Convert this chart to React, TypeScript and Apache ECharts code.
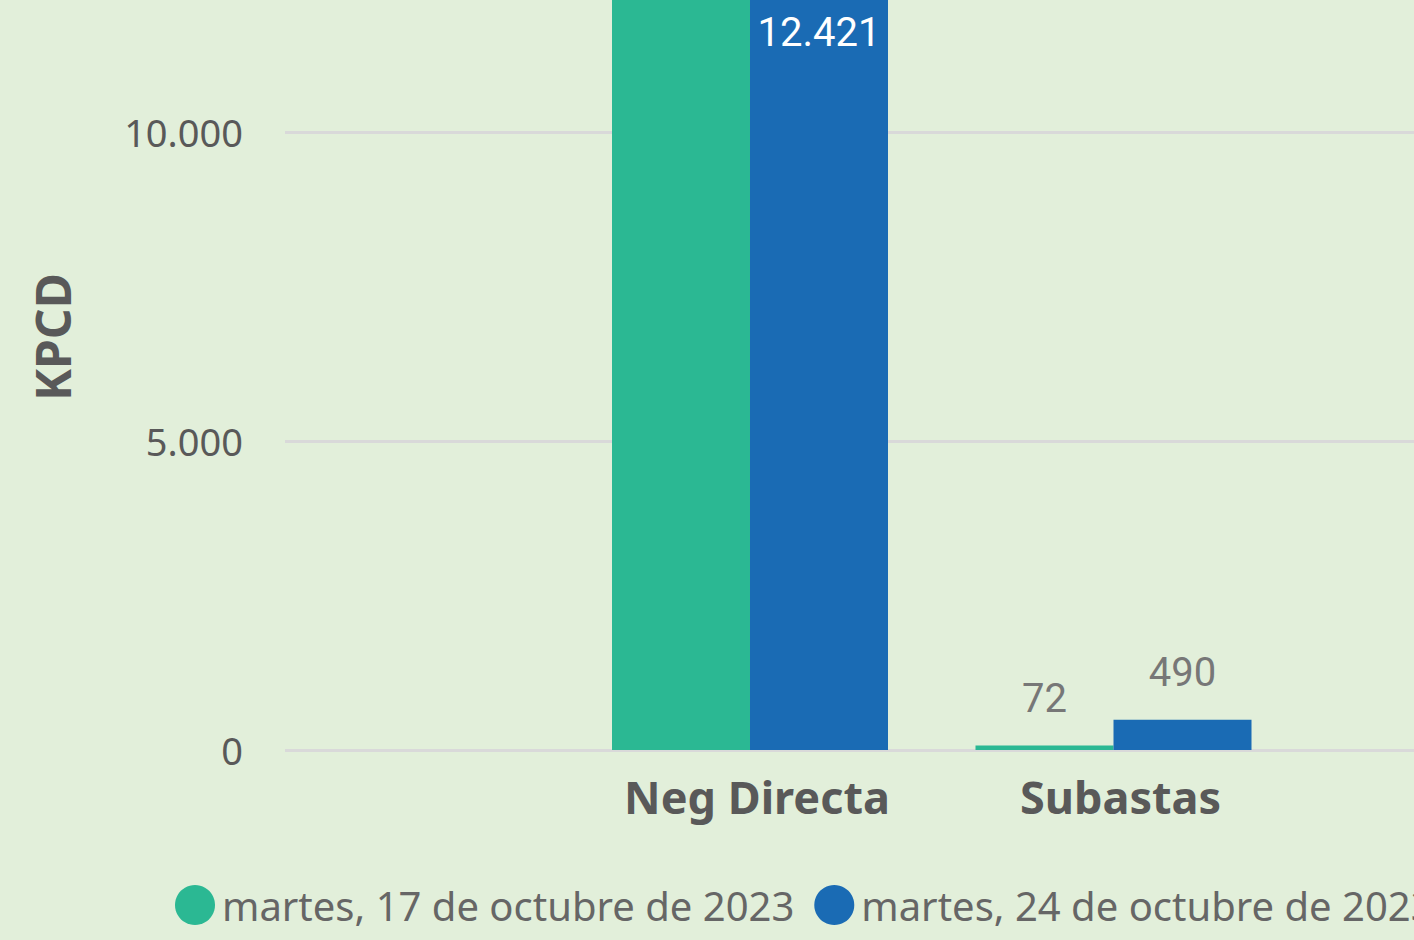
import React, { useEffect, useRef } from "react";
import * as echarts from "echarts";

const categories = ["Neg Directa", "Subastas"];
const seriesNames = ["martes, 17 de octubre de 2023", "martes, 24 de octubre de 2023"];
const values17 = [13800, 72];
const values24 = [12421, 490];
const yMin = 0;
const yMax = 15000;
const yInterval = 5000;
const axisTitle = "KPCD";

const COLORS = ["#2BB893", "#1A6BB4"];
const BG = "#E2EFDA";

function fmt(v: number): string {
  return String(Math.round(v)).replace(/\B(?=(\d{3})+(?!\d))/g, ".");
}

function buildData(values: number[], showFirst: boolean) {
  return values.map((v, i) => ({
    value: v,
    label:
      i === 0
        ? { show: showFirst, position: "insideTop", distance: 30, color: "#FFFFFF" }
        : { position: "top", distance: 27, color: "#777777" },
  }));
}

export default function App() {
  const ref = useRef<HTMLDivElement>(null);
  useEffect(() => {
    if (!ref.current) return;
    const chart = echarts.init(ref.current, undefined, { renderer: "svg" });
    const labelStyle = {
      show: true,
      fontFamily: "Roboto",
      fontSize: 40,
      formatter: (p: any) => fmt(p.value),
    };
    chart.setOption({
      animation: false,
      backgroundColor: BG,
      color: COLORS,
      grid: [
        { left: 285, right: 0, top: -177, bottom: 190, outerBoundsMode: "none", containLabel: false },
        { left: 568.25, width: 727, top: -177, bottom: 190, outerBoundsMode: "none", containLabel: false },
      ],
      xAxis: [
        { gridIndex: 0, type: "value", show: false },
        {
          gridIndex: 1,
          type: "category",
          data: categories,
          axisLine: { show: false },
          axisTick: { show: false },
          axisLabel: {
            fontFamily: "Noto Sans",
            fontWeight: "bold",
            fontSize: 45,
            color: "#595959",
            margin: 24,
            padding: [0, 0, 0, 14],
          },
        },
      ],
      yAxis: [
        {
          gridIndex: 0,
          type: "value",
          min: yMin,
          max: yMax,
          interval: yInterval,
          axisLine: { show: false },
          axisTick: { show: false },
          axisLabel: {
            fontFamily: "Noto Sans",
            fontSize: 38,
            color: "#595959",
            margin: 42,
            showMaxLabel: false,
            formatter: (v: number) => fmt(v),
          },
          splitLine: { lineStyle: { color: "#D9D9D9", width: 3 } },
        },
        {
          gridIndex: 1,
          type: "value",
          min: yMin,
          max: yMax,
          interval: yInterval,
          show: false,
          splitLine: { show: false },
        },
      ],
      legend: {
        left: 170,
        top: 880,
        width: 2000,
        itemWidth: 40,
        itemHeight: 40,
        itemGap: 20,
        icon: "circle",
        selectedMode: false,
        textStyle: {
          fontFamily: "Noto Sans",
          fontSize: 40,
          color: "#666666",
          padding: [0, 0, 0, 2],
        },
        data: seriesNames,
      },
      graphic: [
        {
          type: "text",
          x: 52,
          y: 337,
          rotation: Math.PI / 2,
          style: {
            text: axisTitle,
            fontFamily: "Noto Sans",
            fontWeight: "bold",
            fontSize: 48,
            fill: "#595959",
            align: "center",
            verticalAlign: "middle",
          },
        },
      ],
      series: [
        {
          name: seriesNames[0],
          type: "bar",
          xAxisIndex: 1,
          yAxisIndex: 1,
          barWidth: 138,
          barGap: "0%",
          label: labelStyle,
          data: buildData(values17, false),
        },
        {
          name: seriesNames[1],
          type: "bar",
          xAxisIndex: 1,
          yAxisIndex: 1,
          barWidth: 138,
          barGap: "0%",
          label: labelStyle,
          data: buildData(values24, true),
        },
      ],
    });
    return () => chart.dispose();
  }, []);
  return (
    <div
      style={{
        position: "fixed",
        left: 0,
        top: 0,
        width: 1414,
        height: 940,
        overflow: "hidden",
        background: BG,
      }}
    >
      <div ref={ref} style={{ width: 1414, height: 940 }} />
    </div>
  );
}
